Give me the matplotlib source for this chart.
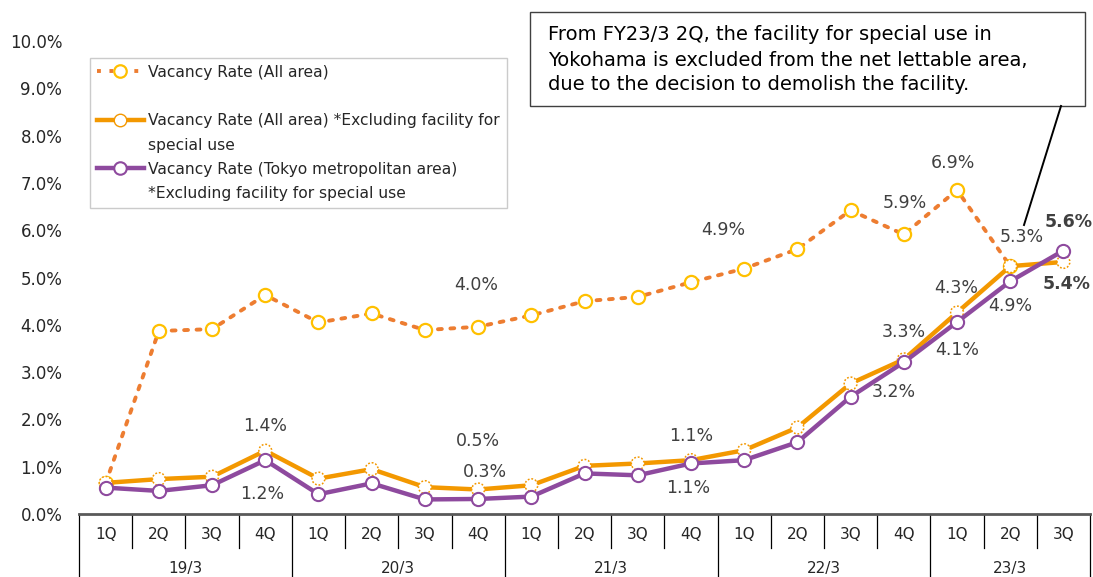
import numpy as np
import matplotlib
matplotlib.use("Agg")
import matplotlib.pyplot as plt
from matplotlib.lines import Line2D
from matplotlib.patches import Rectangle

plt.rcParams['font.family'] = ['DejaVu Sans']

# 会計期 / 四半期
years = ["19/3", "20/3", "21/3", "22/3", "23/3"]
quarters = ["1Q", "2Q", "3Q", "4Q"] * 4 + ["1Q", "2Q", "3Q"]

# 空室率 (%)
rate_all = [0.65, 3.87, 3.91, 4.63, 4.05, 4.24, 3.89, 3.96, 4.20, 4.50,
            4.59, 4.90, 5.19, 5.60, 6.42, 5.91, 6.85, 5.24, np.nan]
rate_excl = [0.66, 0.74, 0.79, 1.34, 0.75, 0.95, 0.57, 0.52, 0.61, 1.02,
             1.07, 1.14, 1.35, 1.83, 2.76, 3.27, 4.26, 5.24, 5.33]
rate_tokyo = [0.56, 0.49, 0.61, 1.14, 0.42, 0.65, 0.31, 0.32, 0.37, 0.86,
              0.82, 1.07, 1.14, 1.52, 2.48, 3.21, 4.06, 4.92, 5.57]

# ラベル: (系列, index, テキスト, dx, dy, bold)
labels = [
    ("excl", 3, "1.4%", 0, 25, False),
    ("tokyo", 3, "1.2%", -3, -34, False),
    ("all", 7, "4.0%", -2, 42, False),
    ("excl", 7, "0.5%", 0, 49, False),
    ("tokyo", 7, "0.3%", 7, 27, False),
    ("all", 11, "4.9%", 32, 52, False),
    ("excl", 11, "1.1%", 0, 24, False),
    ("tokyo", 11, "1.1%", -3, -25, False),
    ("all", 15, "5.9%", 1, 31, False),
    ("excl", 15, "3.3%", 0, 27, False),
    ("tokyo", 15, "3.2%", -10, -30, False),
    ("all", 16, "6.9%", -4, 27, False),
    ("excl", 16, "4.3%", -1, 25, False),
    ("tokyo", 16, "4.1%", 0, -28, False),
    ("all", 17, "5.3%", 12, 29, False),
    ("tokyo", 17, "4.9%", 0, -25, False),
    ("tokyo", 18, "5.6%", 5, 29, True),
    ("excl", 18, "5.4%", 3, -22, True),
]

c_dot = "#ED7D31"
c_mk = "#FFC000"
c_org = "#F39800"
c_pur = "#8E4A9E"
c_txt = "#404040"

fig = plt.figure(figsize=(10.93, 5.77), dpi=100)
ax = fig.add_axes([0.0723, 0.109, 0.925, 0.82])

x = np.arange(len(quarters))
ax.plot(x, rate_all, linestyle=(0, (1, 2.2)), color=c_dot, lw=2.8,
        dash_capstyle="round", zorder=2)
ax.plot(x, rate_all, linestyle="none", marker="o", ms=9.5, mfc="white",
        mec=c_mk, mew=1.6, zorder=3)
ax.plot(x, rate_excl, color=c_org, lw=3.2, zorder=4)
ax.scatter(x, rate_excl, s=85, facecolors="white", edgecolors=c_org,
           linewidths=1.1, linestyles=(0, (1.2, 1.2)), zorder=4.5)
ax.plot(x, rate_tokyo, color=c_pur, lw=3.2, marker="o", ms=9.5, mfc="white",
        mec=c_pur, mew=1.5, zorder=5)

series = {"all": rate_all, "excl": rate_excl, "tokyo": rate_tokyo}
for key, i, txt, dx, dy, bold in labels:
    ax.annotate(txt, (x[i], series[key][i]), xytext=(dx * 0.72, dy * 0.72),
                textcoords="offset points", ha="center", va="center",
                fontsize=12.5, color=c_txt,
                fontweight="bold" if bold else "normal", zorder=6)

ax.set_xlim(-0.5, len(quarters) - 0.5)
ax.set_ylim(0, 10)
ax.set_yticks(np.arange(0, 11, 1))
ax.set_yticklabels([f"{v:.1f}%" for v in range(0, 11)])
ax.tick_params(axis="y", length=0, labelsize=12, labelcolor="#262626", pad=12)
ax.set_xticks([])
for s in ["top", "right", "left"]:
    ax.spines[s].set_visible(False)
ax.spines["bottom"].set_color("#595959")
ax.spines["bottom"].set_linewidth(2)

# カテゴリ表
tr = ax.get_xaxis_transform()
for k in range(len(quarters) + 1):
    long_line = k % 4 == 0 or k == len(quarters)
    ax.plot([k - 0.5, k - 0.5], [0, -0.14 if long_line else -0.072],
            transform=tr, color="black", lw=0.9, clip_on=False)
for i, q in enumerate(quarters):
    ax.text(i, -0.044, q, transform=tr, ha="center", va="center",
            fontsize=11, color="#262626")
for j, yr in enumerate(years):
    n = 4 if j < 4 else 3
    ax.text(j * 4 + (n - 1) / 2, -0.115, yr, transform=tr, ha="center",
            va="center", fontsize=11, color="#262626")

# 凡例
blank = Line2D([], [], linestyle="none")
h_all = Line2D([], [], linestyle=(0, (1, 2.2)), color=c_dot, lw=2.8,
               marker="o", ms=9, mfc="white", mec=c_mk, mew=1.6)
h_excl = Line2D([], [], color=c_org, lw=3.2, marker="o", ms=9, mfc="white",
                mec=c_org, mew=1.0)
h_tokyo = Line2D([], [], color=c_pur, lw=3.2, marker="o", ms=9, mfc="white",
                 mec=c_pur, mew=1.5)
leg = ax.legend([h_all, blank, h_excl, blank, h_tokyo, blank],
                ["Vacancy Rate (All area)", " ",
                 "Vacancy Rate (All area) *Excluding facility for",
                 "special use",
                 "Vacancy Rate (Tokyo metropolitan area)",
                 "*Excluding facility for special use"],
                loc="upper left", bbox_to_anchor=(0.011, 0.965),
                fontsize=11.2, frameon=True, fancybox=False, edgecolor="#BFBFBF",
                handlelength=3.0, handletextpad=0.3, labelspacing=0.6,
                borderpad=0.45, borderaxespad=0)
leg.get_frame().set_linewidth(1.0)
for t in leg.get_texts():
    t.set_color("#262626")

# 注記
fig.add_artist(Rectangle((530 / 1093, 1 - 106 / 577), 555 / 1093, 94 / 577,
                         transform=fig.transFigure, fc="white", ec="#404040",
                         lw=1.0))
fig.text(548 / 1093, 1 - 60 / 577,
         "From FY23/3 2Q, the facility for special use in\n"
         "Yokohama is excluded from the net lettable area,\n"
         "due to the decision to demolish the facility.",
         ha="left", va="center", fontsize=14, color="black", linespacing=1.4)
fig.add_artist(Line2D([1061 / 1093, 1024 / 1093], [1 - 106 / 577, 1 - 225 / 577],
                      color="black", lw=1.4))

fig.savefig("out.png", dpi=100)
